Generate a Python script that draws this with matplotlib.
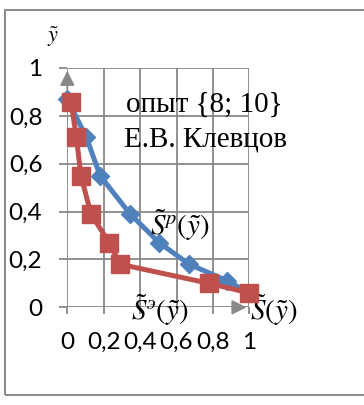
import numpy as np
import matplotlib
matplotlib.use('Agg')
import matplotlib.pyplot as plt
from matplotlib.patches import Rectangle

s_exp_x = [0.02, 0.05, 0.075, 0.13, 0.23, 0.29, 0.78, 1.0]
s_exp_y = [0.86, 0.71, 0.55, 0.39, 0.27, 0.18, 0.10, 0.06]
s_calc_x = [0.0, 0.105, 0.18, 0.345, 0.505, 0.67, 0.88, 1.0]
s_calc_y = [0.87, 0.71, 0.55, 0.39, 0.27, 0.18, 0.11, 0.06]

tick_vals = [0, 0.2, 0.4, 0.6, 0.8, 1]
tick_labels = ['0', '0,2', '0,4', '0,6', '0,8', '1']

title_lines = ['опыт {8; 10}', 'Е.В. Клевцов']

W, H = 364, 405
fig = plt.figure(figsize=(W / 100, H / 100), dpi=100)
plt.rcParams['mathtext.fontset'] = 'stix'

ax = fig.add_axes([67.3 / W, (H - 307.3) / H, 182 / W, 239.3 / H])
ax.set_xlim(0, 1)
ax.set_ylim(0, 1)
for s in ax.spines.values():
    s.set_visible(False)

grid_c = '#888888'
ax.set_xticks(tick_vals)
ax.set_yticks(tick_vals)
ax.set_xticklabels(tick_labels, family='Lato', fontsize=17.5)
ax.set_yticklabels(tick_labels, family='Lato', fontsize=17.5)
ax.tick_params(axis='x', length=5, width=1.3, color=grid_c, pad=13)
ax.tick_params(axis='y', length=6, width=1.3, color=grid_c, pad=12)
ax.grid(True, color=grid_c, lw=1.3)
ax.set_axisbelow(True)

# axis arrows
ax.annotate('', xy=(0, 1), xytext=(0, 0.9),
            arrowprops=dict(arrowstyle='-|>', color=grid_c, lw=1.3, mutation_scale=22))
ax.annotate('', xy=(1, 0), xytext=(0.9, 0),
            arrowprops=dict(arrowstyle='-|>', color=grid_c, lw=1.3, mutation_scale=22))

ax.plot(s_calc_x, s_calc_y, color='#4F81BD', lw=3.6, marker='D', ms=9,
        clip_on=False, zorder=3)
ax.plot(s_exp_x, s_exp_y, color='#C0504D', lw=3.6, marker='s', ms=13,
        clip_on=False, zorder=4)

ax.text(0.753, 0.845, title_lines[0], family='Liberation Serif', fontsize=21,
        ha='center', va='center')
ax.text(0.76, 0.70, title_lines[1], family='Liberation Serif', fontsize=21,
        ha='center', va='center')

ax.text(0.62, 0.345, r'$\tilde{S}^{p}(\tilde{y})$', fontsize=21, ha='center', va='center')
ax.text(0.51, -0.01, r'$\tilde{S}^{э}(\tilde{y})$', fontsize=21, ha='center', va='center')
ax.text(1.135, -0.01, r'$\tilde{S}(\tilde{y})$', fontsize=21, ha='center', va='center')
fig.text(53 / W, (H - 37) / H, r'$\tilde{y}$', fontsize=16, ha='center', va='center')

# outer frame
fig.add_artist(Rectangle((5 / W, 10 / H), 1.2, 385 / H, transform=fig.transFigure,
                         fill=False, edgecolor='#8c8c8c', lw=1.5, clip_on=False))

fig.savefig('out.png', dpi=100)
